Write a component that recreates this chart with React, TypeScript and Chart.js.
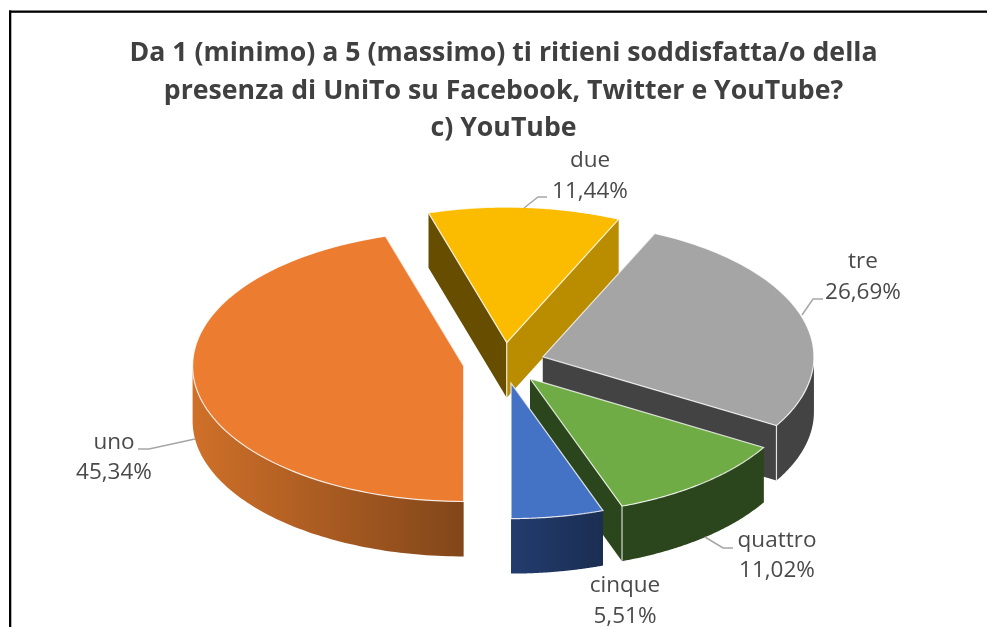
import React, { useEffect, useRef } from "react";
import { Chart, registerables } from "chart.js";

Chart.register(...registerables);

const titleLines = [
  "Da 1 (minimo) a 5 (massimo) ti ritieni soddisfatta/o della",
  "presenza di UniTo su Facebook, Twitter e YouTube?",
  "c) YouTube",
];
const categories = ["uno", "due", "tre", "quattro", "cinque"];
const shares = [45.34, 11.44, 26.69, 11.02, 5.51];
const topColors = ["#EC7C30", "#FBBC00", "#A5A5A5", "#6FAC46", "#4472C4"];

// Look of the extruded walls and of the annotations (no data here).
const sideStart = ["#84471A", "#664D00", "#434343", "#2B451C", "#1B2E52"];
const sideEnd = ["#84471A", "#BA8C00", "#434343", "#2B451C", "#1B2E52"];
const outerLeft = ["#CF7029", "#BA8C00", "#434343", "#2B451C", "#223C6E"];
const outerRight = ["#82461A", "#BA8C00", "#434343", "#2B451C", "#1B2E52"];
const apexEdge = [false, true, false, false, false];
const rimEdge = [false, false, true, true, false];
const labelCentres = [
  [114, 449, 479],
  [590, 167, 198],
  [863, 268, 299],
  [777, 547, 577],
  [625, 592, 623],
];
const leaders = [
  [[195, 439], [149, 449], [138, 449]],
  [[524, 208], [538, 197], [547, 197]],
  [[802, 315], [813, 299], [823, 299]],
  [[705, 537], [723, 548], [733, 548]],
  [],
];

const CENTRE_X = 504;
const STRETCH_X = 2;
const EXPLODE = 20.4;
const DEPTH = 55;

function geometry(arc: any) {
  const mid = (arc.startAngle + arc.endAngle) / 2;
  const dx = Math.cos(mid) * EXPLODE;
  const dy = Math.sin(mid) * EXPLODE;
  const at = (r: number, a: number, z = 0) => ({
    x: CENTRE_X + STRETCH_X * (dx + r * Math.cos(a)),
    y: arc.y + dy + r * Math.sin(a) + z,
  });
  return { mid, dx, dy, at };
}

function quad(ctx: CanvasRenderingContext2D, a: any, b: any, color: string) {
  ctx.fillStyle = color;
  ctx.beginPath();
  ctx.moveTo(a.x, a.y);
  ctx.lineTo(b.x, b.y);
  ctx.lineTo(b.x, b.y + DEPTH);
  ctx.lineTo(a.x, a.y + DEPTH);
  ctx.closePath();
  ctx.fill();
}

const pie3d = {
  id: "pie3d",
  beforeDraw(chart: any) {
    const { ctx } = chart;
    ctx.save();
    ctx.fillStyle = "#000";
    ctx.fillRect(9, 10.5, 978, 2.3);
    ctx.fillRect(9, 10.5, 2.3, 617);
    ctx.restore();
  },
  beforeDatasetDraw(chart: any, args: any) {
    const { ctx } = chart;
    const arcs: any[] = args.meta.data;
    const order = arcs
      .map((_, i) => i)
      .sort(
        (a, b) =>
          Math.sin((arcs[a].startAngle + arcs[a].endAngle) / 2) -
          Math.sin((arcs[b].startAngle + arcs[b].endAngle) / 2),
      );
    ctx.save();
    // Walls, from the back of the pie to the front.
    order.forEach((i) => {
      const arc = arcs[i];
      const { at } = geometry(arc);
      const r = arc.outerRadius;
      const apex = at(0, 0);
      quad(ctx, apex, at(r, arc.startAngle), sideStart[i]);
      quad(ctx, apex, at(r, arc.endAngle), sideEnd[i]);
      for (let n = 0; n < 2; n++) {
        const lo = Math.max(arc.startAngle, n * 2 * Math.PI);
        const hi = Math.min(arc.endAngle, n * 2 * Math.PI + Math.PI);
        if (hi <= lo) continue;
        const steps = 80;
        const top: any[] = [];
        for (let s = 0; s <= steps; s++) top.push(at(r, lo + ((hi - lo) * s) / steps));
        const xs = top.map((p) => p.x);
        const g = ctx.createLinearGradient(Math.min(...xs), 0, Math.max(...xs), 0);
        g.addColorStop(0, outerLeft[i]);
        g.addColorStop(1, outerRight[i]);
        ctx.fillStyle = g;
        ctx.beginPath();
        top.forEach((p, k) => (k ? ctx.lineTo(p.x, p.y) : ctx.moveTo(p.x, p.y)));
        top
          .slice()
          .reverse()
          .forEach((p) => ctx.lineTo(p.x, p.y + DEPTH));
        ctx.closePath();
        ctx.fill();
      }
    });
    // Top faces: the library's own arc elements, flattened into an ellipse.
    arcs.forEach((arc) => {
      const { dx, dy } = geometry(arc);
      ctx.save();
      ctx.translate(CENTRE_X, 0);
      ctx.scale(STRETCH_X, 1);
      ctx.translate(dx - arc.x, dy);
      arc.draw(ctx);
      ctx.restore();
    });
    // Thin light bevels.
    ctx.strokeStyle = "rgba(255,255,255,0.8)";
    ctx.lineWidth = 1.2;
    arcs.forEach((arc, i) => {
      const { at } = geometry(arc);
      const r = arc.outerRadius;
      const apex = at(0, 0);
      ctx.beginPath();
      ctx.moveTo(apex.x, apex.y);
      for (let s = 0; s <= 80; s++) {
        const p = at(r, arc.startAngle + ((arc.endAngle - arc.startAngle) * s) / 80);
        ctx.lineTo(p.x, p.y);
      }
      ctx.closePath();
      ctx.stroke();
      if (apexEdge[i]) {
        ctx.beginPath();
        ctx.moveTo(apex.x, apex.y);
        ctx.lineTo(apex.x, apex.y + DEPTH);
        ctx.stroke();
      }
      if (rimEdge[i]) {
        const p = at(r, arc.endAngle);
        ctx.beginPath();
        ctx.moveTo(p.x, p.y);
        ctx.lineTo(p.x, p.y + DEPTH);
        ctx.stroke();
      }
    });
    ctx.restore();
    return false;
  },
  afterDraw(chart: any) {
    const { ctx } = chart;
    ctx.save();
    ctx.strokeStyle = "#A6A6A6";
    ctx.lineWidth = 1.5;
    leaders.forEach((pts) => {
      if (!pts.length) return;
      ctx.beginPath();
      pts.forEach(([x, y], k) => (k ? ctx.lineTo(x, y) : ctx.moveTo(x, y)));
      ctx.stroke();
    });
    ctx.fillStyle = "#4A4A4A";
    ctx.font = '22.5px "Open Sans"';
    ctx.textAlign = "center";
    ctx.textBaseline = "alphabetic";
    categories.forEach((name, i) => {
      const [x, y1, y2] = labelCentres[i];
      ctx.fillText(name, x, y1);
      ctx.fillText(shares[i].toFixed(2).replace(".", ",") + "%", x, y2);
    });
    ctx.restore();
  },
};

export default function App() {
  const ref = useRef<HTMLCanvasElement>(null);
  useEffect(() => {
    document.body.style.margin = "0";
    const chart = new Chart(ref.current as HTMLCanvasElement, {
      type: "pie",
      data: {
        labels: categories,
        datasets: [
          {
            data: shares,
            backgroundColor: topColors,
            borderWidth: 0,
            clip: false,
          } as any,
        ],
      },
      options: {
        animation: false,
        responsive: false,
        events: [],
        rotation: 180,
        layout: { padding: { top: 0, bottom: 128.5, left: 20, right: 0 } },
        plugins: {
          legend: { display: false },
          tooltip: { enabled: false },
          title: {
            display: true,
            fullSize: false,
            text: titleLines,
            color: "#404040",
            font: { family: '"Open Sans"', size: 26.7, weight: "bold", lineHeight: 1.404 },
            padding: { top: 35, bottom: 80 },
          },
        },
      },
      plugins: [pie3d],
    } as any);
    return () => chart.destroy();
  }, []);
  return (
    <div style={{ position: "absolute", left: 0, top: 0, width: 987, height: 627, overflow: "hidden", background: "#fff" }}>
      <canvas ref={ref} width={987} height={627} style={{ display: "block" }} />
    </div>
  );
}
